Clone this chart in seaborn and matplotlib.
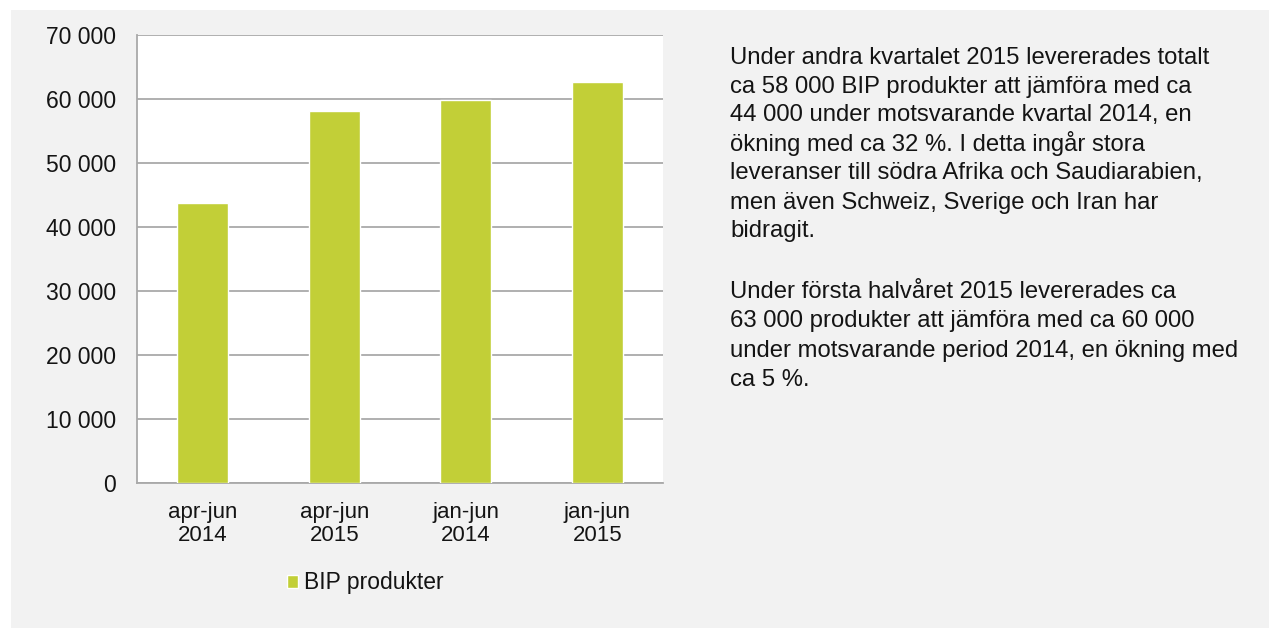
import matplotlib
matplotlib.use("Agg")
import matplotlib.pyplot as plt
from matplotlib.patches import Rectangle
import seaborn as sns
import pandas as pd

categories = ["apr-jun\n2014", "apr-jun\n2015", "jan-jun\n2014", "jan-jun\n2015"]
values = [43700, 58100, 59700, 62600]
series_name = "BIP produkter"
y_ticks = [0, 10000, 20000, 30000, 40000, 50000, 60000, 70000]
y_tick_labels = ["0", "10 000", "20 000", "30 000", "40 000", "50 000", "60 000", "70 000"]
paragraph_1 = ["Under andra kvartalet 2015 levererades totalt",
               "ca 58 000 BIP produkter att jämföra med ca",
               "44 000 under motsvarande kvartal 2014, en",
               "ökning med ca 32 %. I detta ingår stora",
               "leveranser till södra Afrika och Saudiarabien,",
               "men även Schweiz, Sverige och Iran har",
               "bidragit."]
paragraph_2 = ["Under första halvåret 2015 levererades ca",
               "63 000 produkter att jämföra med ca 60 000",
               "under motsvarande period 2014, en ökning med",
               "ca 5 %."]

BAR = "#c2cf37"
GRID = "#a9a9a9"
BG = "#f2f2f2"
TXT = "#141414"

sns.set_theme(style="white")
plt.rcParams["font.family"] = ["Liberation Sans", "DejaVu Sans"]

W, H = 1269, 628
fig = plt.figure(figsize=(W / 100, H / 100), dpi=100, facecolor=BG)
# white margins at top and left
fig.add_artist(Rectangle((0, 1 - 10 / H), 1, 10 / H, transform=fig.transFigure,
                         facecolor="white", edgecolor="none", zorder=-5))
fig.add_artist(Rectangle((0, 0), 11 / W, 1, transform=fig.transFigure,
                         facecolor="white", edgecolor="none", zorder=-5))

left, right, top, bottom = 137, 663, 34.5, 483
ax = fig.add_axes([left / W, (H - bottom) / H, (right - left) / W, (bottom - top) / H])
ax.set_facecolor("white")

df = pd.DataFrame({"kategori": categories, "antal": values, "serie": series_name})
sns.barplot(data=df, x="kategori", y="antal", hue="serie", palette=[BAR],
            width=0.39, edgecolor="white", linewidth=1.0, saturation=1,
            ax=ax, zorder=3)

ax.set_ylim(0, 70000)
ax.set_xlim(-0.5, len(categories) - 0.5)
ax.set_yticks(y_ticks)
ax.set_yticklabels(y_tick_labels)
ax.set_xlabel("")
ax.set_ylabel("")
ax.yaxis.grid(True, color=GRID, linewidth=1.3, zorder=0)
ax.set_axisbelow(True)

for s in ["top", "right"]:
    ax.spines[s].set_visible(False)
for s in ["left", "bottom"]:
    ax.spines[s].set_color(GRID)
    ax.spines[s].set_linewidth(1.3)

# x ticks at category boundaries, labels at category centres
ax.set_xticks([i for i in range(len(categories))])
ax.set_xticklabels(categories, fontsize=16, color=TXT, linespacing=1.12)
ax.tick_params(axis="x", which="major", length=0, pad=14)
ax.set_xticks([i - 0.5 for i in range(len(categories) + 1)], minor=True)
ax.tick_params(axis="x", which="minor", length=7, width=1.3, color=GRID, direction="out")
ax.tick_params(axis="y", length=7, width=1.3, color=GRID, direction="out", pad=8,
               labelsize=16.5, labelcolor=TXT)

# legend
handles, labels = ax.get_legend_handles_labels()
if ax.legend_:
    ax.legend_.remove()
fig.legend(handles, labels, loc="center", bbox_to_anchor=(365 / W, 1 - 583 / H),
           frameon=False, fontsize=16.5, handlelength=0.5, handleheight=0.5,
           handletextpad=0.25, labelcolor=TXT)

# side text, uniform line spacing
line_gap = 29.0
for start, lines in ((63.5, paragraph_1), (298.5, paragraph_2)):
    for i, line in enumerate(lines):
        fig.text(730 / W, 1 - (start + i * line_gap) / H, line, ha="left",
                 va="baseline", fontsize=17.2, color=TXT)

fig.savefig("out.png", dpi=100, facecolor=BG)
